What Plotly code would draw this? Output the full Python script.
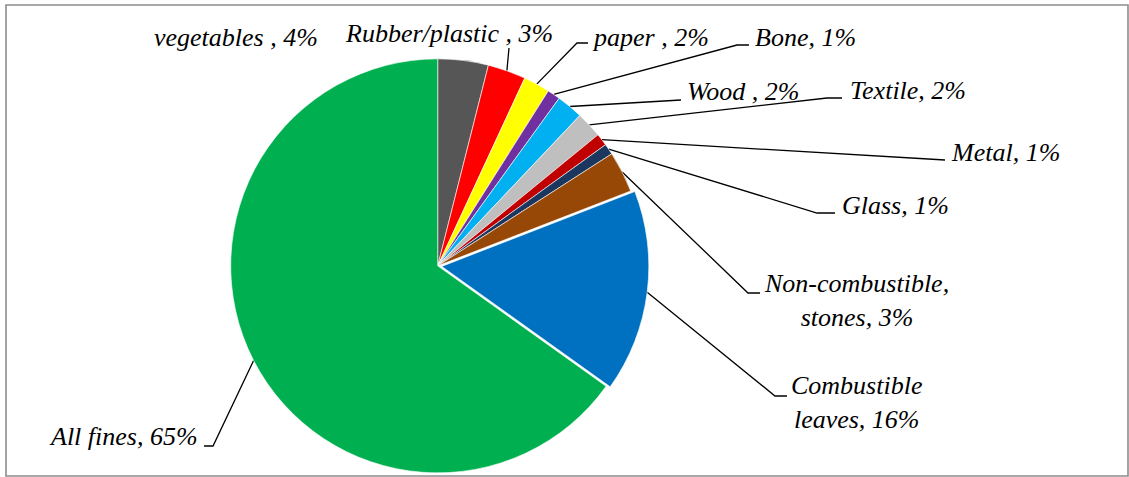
import math
import plotly.graph_objects as go

# ---------------- data ----------------
categories = ["vegetables ", "Rubber/plastic ", "paper ", "Bone", "Wood ", "Textile",
              "Metal", "Glass", "Non-combustible,<br>stones", "Combustible<br>leaves", "All fines"]
values = [3.94, 2.97, 2.06, 1.01, 2.07, 2.04, 0.96, 0.85, 3.21, 15.77, 65.12]

# ---------------- styles / layout ----------------
colors = ["#565656", "#FF0000", "#FFFF00", "#7030A0", "#00B0F0", "#BFBFBF",
          "#C00000", "#1B365F", "#974806", "#0070C0", "#00B050"]
pulls = [0, 0, 0, 0, 0, 0, 0, 0, 0, 0.02, 0]

W, H = 1129, 477
R = 207.0                 # pie radius in px
max_pull = max(pulls)
half = R * (1 + max_pull)
CX, CY = 437.7, H - half  # pie centre in px (from top-left)

# label anchor (x, y, xanchor) in px
label_pos = [
    (152, 37, "left"), (343, 33, "left"), (590, 37, "left"), (753, 37, "left"),
    (685, 91, "left"), (848, 90, "left"), (949, 152, "left"), (840, 205, "left"),
    (856, 300, "center"), (856, 402, "center"), (200, 436, "right"),
]
# leader path points after the slice edge point (px)
leader_pts = [
    [], [(509, 48)], [(577, 43), (588, 43)], [(737, 45), (749, 45)],
    [(670, 100), (681, 100)], [(827, 98), (842, 98)], [(933, 160), (945, 160)],
    [(817, 213), (835, 213)], [(748, 293), (760, 293)], [(775, 396), (787, 396)],
    [(213, 446), (204, 446)],
]

FONT = "Liberation Serif"

fig = go.Figure()

fig.add_trace(go.Pie(
    labels=categories, values=values, sort=False, direction="clockwise", rotation=0,
    marker=dict(colors=colors, line=dict(color="white", width=0.6)),
    pull=pulls, textinfo="none", hoverinfo="label+percent", showlegend=False,
    domain=dict(x=[(CX - half) / W, (CX + half) / W],
                y=[0, min(1.0, 2 * half / H)]),
))

total = sum(values)
cum = 0.0
for i, (cat, v) in enumerate(zip(categories, values)):
    mid = (cum + v / 2) / total * 2 * math.pi
    cum += v
    sx = CX + (R + R * pulls[i]) * math.sin(mid)
    sy = CY - (R + R * pulls[i]) * math.cos(mid)
    pts = leader_pts[i]
    if pts:
        xs = [sx] + [p[0] for p in pts]
        ys = [sy] + [p[1] for p in pts]
        fig.add_trace(go.Scatter(x=xs, y=ys, mode="lines",
                                 line=dict(color="black", width=1.3),
                                 hoverinfo="skip", showlegend=False))
    pct = round(v / total * 100)
    lx, ly, xa = label_pos[i]
    fig.add_annotation(x=lx, y=ly, xref="x", yref="y", xanchor=xa, yanchor="middle",
                       text=f"{cat}, {pct}%", showarrow=False, align="center",
                       font=dict(family=FONT, size=26, color="black", style="italic"))

fig.add_shape(type="rect", xref="x", yref="y", x0=6, y0=5, x1=1128, y1=476,
              line=dict(color="#8c8c8c", width=1.6), layer="above")

fig.update_layout(
    width=W, height=H, margin=dict(l=0, r=0, t=0, b=0),
    paper_bgcolor="white", plot_bgcolor="rgba(0,0,0,0)",
    xaxis=dict(range=[0, W], visible=False, fixedrange=True),
    yaxis=dict(range=[H, 0], visible=False, fixedrange=True),
)

fig.write_html("out.html", config={"displayModeBar": False},
               post_script="document.body.style.margin='0';document.body.style.overflow='hidden';")
